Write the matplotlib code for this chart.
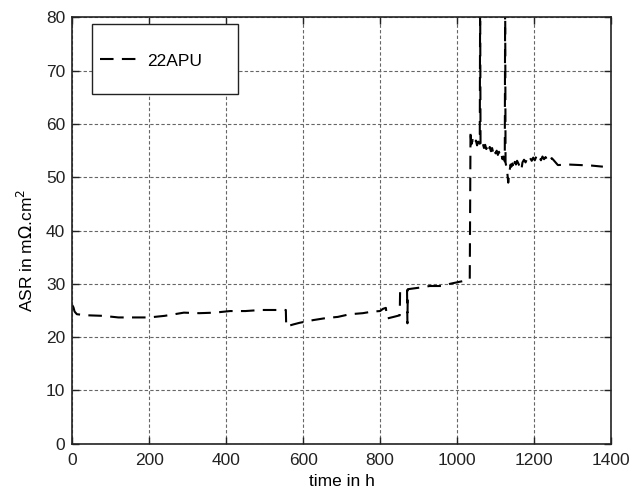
import matplotlib.pyplot as plt
from matplotlib.patches import Rectangle

plt.rcParams['font.family'] = ['Liberation Sans', 'DejaVu Sans']

# ASR of cell 22APU (time in h, ASR in mOhm.cm2)
time_h = [0, 3, 6, 12, 40, 80, 120, 160, 200, 240, 290, 330, 370, 410, 450,
          490, 530, 555, 556, 575, 591, 626, 661, 690, 721, 755, 780, 800,
          807, 815, 818, 835, 851, 852, 870, 871, 872, 903, 929, 963, 981,
          1007, 1028, 1033, 1035, 1037, 1041, 1045, 1049, 1052, 1055, 1059,
          1060, 1061, 1064, 1067, 1070, 1073, 1076, 1079, 1082, 1085, 1088,
          1091, 1094, 1097, 1100, 1103, 1106, 1109, 1112, 1115, 1118, 1121,
          1124, 1125, 1126, 1128, 1130, 1133, 1136, 1139, 1141, 1144, 1147,
          1150, 1153, 1156, 1160, 1164, 1167, 1170, 1174, 1178, 1182, 1186,
          1190, 1194, 1198, 1202, 1206, 1210, 1214, 1218, 1222, 1226, 1230,
          1234, 1238, 1242, 1246, 1250, 1256, 1262, 1290, 1320, 1350, 1379]
asr = [26.0, 25.6, 24.8, 24.3, 24.1, 24.0, 23.7, 23.7, 23.7, 24.0, 24.6, 24.5,
       24.6, 24.9, 24.9, 25.1, 25.1, 25.1, 22.0, 22.4, 22.7, 23.2, 23.6, 23.8,
       24.3, 24.5, 24.8, 24.9, 25.3, 25.5, 23.5, 23.8, 24.1, 28.8, 28.8, 22.6,
       29.0, 29.3, 29.6, 29.6, 30.0, 30.4, 30.7, 30.9, 58.8, 56.2, 57.0, 56.1,
       56.9, 56.0, 56.7, 56.3, 85.0, 56.2, 55.6, 56.3, 55.5, 56.1, 55.3, 55.9,
       55.0, 55.7, 54.9, 55.5, 54.6, 55.3, 54.5, 55.0, 54.2, 54.8, 53.9, 54.4,
       53.4, 53.9, 53.0, 85.0, 52.8, 52.0, 51.3, 49.0, 51.0, 52.4, 52.0, 52.6,
       51.6, 52.9, 52.4, 53.1, 52.5, 51.8, 51.3, 52.8, 53.3, 52.8, 53.5, 53.0,
       53.6, 53.1, 53.7, 53.2, 53.9, 53.3, 53.8, 53.2, 53.9, 53.4, 53.8, 53.3,
       53.7, 53.2, 53.6, 53.3, 52.8, 52.3, 52.4, 52.3, 52.2, 52.0]

x_ticks = [0, 200, 400, 600, 800, 1000, 1200, 1400]
y_ticks = [0, 10, 20, 30, 40, 50, 60, 70, 80]

fig = plt.figure(figsize=(6.33, 4.91), dpi=100)
ax = fig.add_axes([0.1142, 0.0963, 0.851, 0.8681])

ax.plot(time_h, asr, color='black', lw=1.5, dashes=(6.5, 4), label='22APU')

ax.set_xlim(0, 1400)
ax.set_ylim(0, 80)
ax.set_xticks(x_ticks)
ax.set_yticks(y_ticks)
ax.tick_params(direction='in', length=5, width=1, top=True, right=True,
               labelsize=12.5, colors='#222222')
ax.tick_params(axis='x', pad=7)
ax.tick_params(axis='y', pad=5)
ax.grid(True, color='#666666', lw=0.8, linestyle=(0, (3, 2)))
for s in ax.spines.values():
    s.set_linewidth(1.2)
    s.set_color('#222222')

ax.set_xlabel('time in h', fontsize=12.5, labelpad=4)
ax.set_ylabel(r'ASR in m$\Omega$.cm$^2$', fontsize=12.5)
ax.yaxis.set_label_coords(-0.068, 0.454)

# legend box (Matlab style)
ax.add_patch(Rectangle((0.0366, 0.820), 0.271, 0.164, transform=ax.transAxes,
                       facecolor='white', edgecolor='#222222', lw=1.0, zorder=4))
leg = ax.legend(loc='center left', bbox_to_anchor=(0.0514, 0.898),
                borderaxespad=0, borderpad=0, frameon=False,
                handlelength=2.1, handletextpad=0.6, fontsize=12.5)
leg.set_zorder(5)

fig.savefig('out.png', dpi=100)
